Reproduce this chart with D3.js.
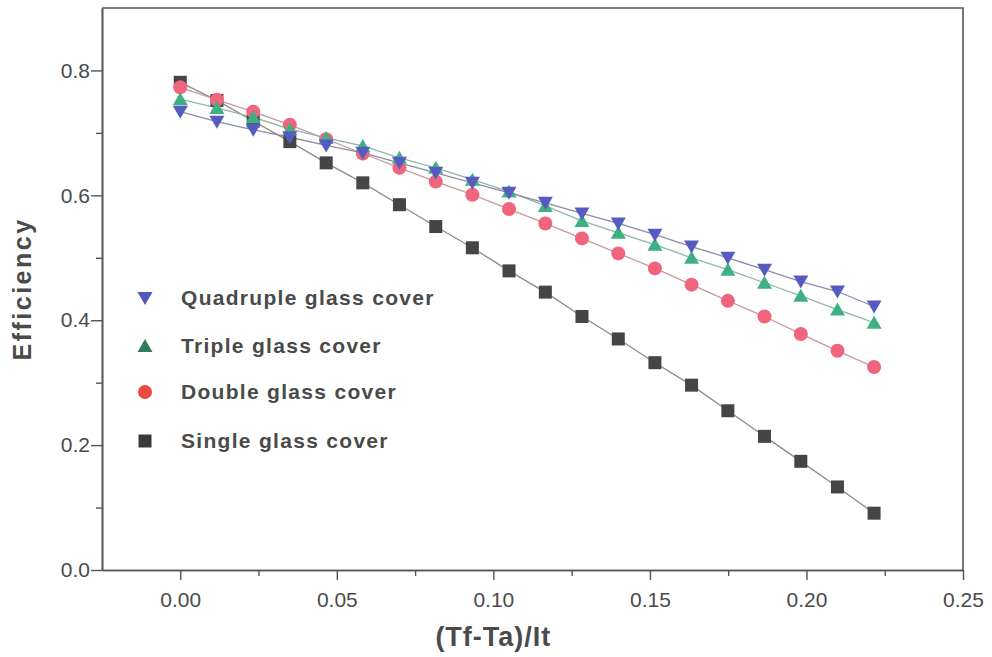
<!DOCTYPE html>
<html lang="en">
<head>
<meta charset="UTF-8">
<title>Efficiency vs (Tf-Ta)/It</title>
<script src="https://d3js.org/d3.v7.min.js"></script>
<style>
    body { margin: 0; background: #fff; }
    svg { font-family: Arial, "Liberation Sans", sans-serif; }
</style>
</head>
<body>
<div id="chart"></div>
<script>
// data
var xValues = [0, 0.0117, 0.0233, 0.035, 0.0466, 0.0583, 0.07, 0.0816, 0.0933, 0.105,
               0.1166, 0.1283, 0.1399, 0.1516, 0.1633, 0.1749, 0.1866, 0.1982, 0.2099, 0.2216];
var single = [0.781, 0.752, 0.719, 0.686, 0.652, 0.620, 0.585, 0.550, 0.516, 0.479,
              0.445, 0.406, 0.370, 0.332, 0.296, 0.255, 0.214, 0.174, 0.133, 0.091];
var double = [0.773, 0.753, 0.734, 0.713, 0.690, 0.667, 0.644, 0.622, 0.601, 0.578,
              0.555, 0.531, 0.507, 0.483, 0.457, 0.431, 0.406, 0.378, 0.351, 0.325];
var triple = [0.754, 0.740, 0.725, 0.706, 0.692, 0.679, 0.660, 0.644, 0.625, 0.606,
              0.583, 0.559, 0.540, 0.521, 0.500, 0.481, 0.460, 0.439, 0.417, 0.396];
var quadruple = [0.734, 0.718, 0.705, 0.693, 0.680, 0.668, 0.652, 0.636, 0.620, 0.604,
                 0.588, 0.571, 0.555, 0.537, 0.518, 0.500, 0.481, 0.462, 0.446, 0.422];
var seriesNames = ["Quadruple glass cover", "Triple glass cover", "Double glass cover", "Single glass cover"];
var xTicks = [0, 0.05, 0.10, 0.15, 0.20, 0.25];
var yTicks = [0, 0.2, 0.4, 0.6, 0.8];

var width = 992, height = 657;
var margin = {left: 102, right: 29, top: 8, bottom: 87};
var axisColor = "#555", textColor = "#4a4a4a";

var svg = d3.select("#chart").append("svg")
    .attr("width", width)
    .attr("height", height);

var x = d3.scaleLinear().domain([-0.025, 0.25]).range([margin.left, width - margin.right]);
var y = d3.scaleLinear().domain([0, 0.9]).range([height - margin.bottom, margin.top]);

// series draw order: single first (bottom), quadruple last
var series = [
    {name: seriesNames[3], values: single, color: "#454545", line: "#8c8c8c", shape: "square"},
    {name: seriesNames[2], values: double, color: "#f0647e", line: "#c79aa2", shape: "circle"},
    {name: seriesNames[1], values: triple, color: "#3fb084", line: "#8fb8a8", shape: "up"},
    {name: seriesNames[0], values: quadruple, color: "#565cbf", line: "#8c8ca8", shape: "down"}
];

function drawMarker(g, shape, color, cx, cy) {
    if (shape === "square") {
        g.append("rect").attr("x", cx - 6.5).attr("y", cy - 6.5)
            .attr("width", 13).attr("height", 13).attr("fill", color);
    } else if (shape === "circle") {
        g.append("circle").attr("cx", cx).attr("cy", cy).attr("r", 7).attr("fill", color);
    } else if (shape === "up") {
        g.append("path").attr("d", `M${cx},${cy - 7}L${cx + 7.5},${cy + 6}L${cx - 7.5},${cy + 6}Z`)
            .attr("fill", color);
    } else {
        g.append("path").attr("d", `M${cx},${cy + 7}L${cx + 7.5},${cy - 6}L${cx - 7.5},${cy - 6}Z`)
            .attr("fill", color);
    }
}

var line = d3.line().x((d, i) => x(xValues[i])).y(d => y(d));

series.forEach(function(s) {
    svg.append("path")
        .datum(s.values)
        .attr("d", line)
        .attr("fill", "none")
        .attr("stroke", s.line)
        .attr("stroke-width", 1.3);
});
series.forEach(function(s) {
    var g = svg.append("g");
    s.values.forEach(function(v, i) {
        drawMarker(g, s.shape, s.color, x(xValues[i]), y(v));
    });
});

// axes
var xAxis = svg.append("g")
    .attr("transform", `translate(0,${y(0)})`)
    .call(d3.axisBottom(x).tickValues(xTicks).tickFormat(d3.format(".2f")).tickSize(10).tickSizeOuter(0));
var xMinor = svg.append("g")
    .attr("transform", `translate(0,${y(0)})`)
    .call(d3.axisBottom(x).tickValues([0.025, 0.075, 0.125, 0.175, 0.225]).tickFormat("").tickSize(6).tickSizeOuter(0));
var yAxis = svg.append("g")
    .attr("transform", `translate(${x(-0.025)},0)`)
    .call(d3.axisLeft(y).tickValues(yTicks).tickFormat(d3.format(".1f")).tickSize(11).tickSizeOuter(0));
var yMinor = svg.append("g")
    .attr("transform", `translate(${x(-0.025)},0)`)
    .call(d3.axisLeft(y).tickValues([0.1, 0.3, 0.5, 0.7]).tickFormat("").tickSize(6).tickSizeOuter(0));

[xAxis, xMinor, yAxis, yMinor].forEach(function(a) {
    a.select(".domain").attr("stroke", axisColor).attr("stroke-width", 1.6);
    a.selectAll(".tick line").attr("stroke", axisColor).attr("stroke-width", 1.4);
    a.selectAll(".tick text").attr("fill", textColor).style("font-size", "21px");
});
xAxis.selectAll(".tick text").attr("dy", "1.15em");
yAxis.selectAll(".tick text").attr("x", -12);

// top and right frame
svg.append("path")
    .attr("d", `M${x(-0.025)},${y(0.9)}H${x(0.25)}V${y(0)}`)
    .attr("fill", "none")
    .attr("stroke", axisColor)
    .attr("stroke-width", 1.6);

// axis titles
svg.append("text")
    .attr("x", x(0.1))
    .attr("y", 646)
    .attr("text-anchor", "middle")
    .attr("fill", textColor)
    .style("font-size", "27px")
    .style("font-weight", "bold")
    .style("letter-spacing", "1px")
    .text("(Tf-Ta)/It");

svg.append("text")
    .attr("transform", `translate(31,${y(0.45)}) rotate(-90)`)
    .attr("text-anchor", "middle")
    .attr("fill", textColor)
    .style("font-size", "25px")
    .style("font-weight", "bold")
    .style("letter-spacing", "2.5px")
    .text("Efficiency");

// legend
var legendRows = [
    {name: seriesNames[0], color: "#5258bb", shape: "down", y: 298},
    {name: seriesNames[1], color: "#2f7d5a", shape: "up", y: 346},
    {name: seriesNames[2], color: "#ea4a40", shape: "circle", y: 392},
    {name: seriesNames[3], color: "#3a3a3a", shape: "square", y: 441}
];
var legend = svg.append("g");
legendRows.forEach(function(r) {
    drawMarker(legend, r.shape, r.color, 145, r.y);
    legend.append("text")
        .attr("x", 181)
        .attr("y", r.y)
        .attr("dy", "0.35em")
        .attr("fill", textColor)
        .style("font-size", "21px")
        .style("font-weight", "bold")
        .style("letter-spacing", "1.3px")
        .text(r.name);
});
</script>
</body>
</html>
